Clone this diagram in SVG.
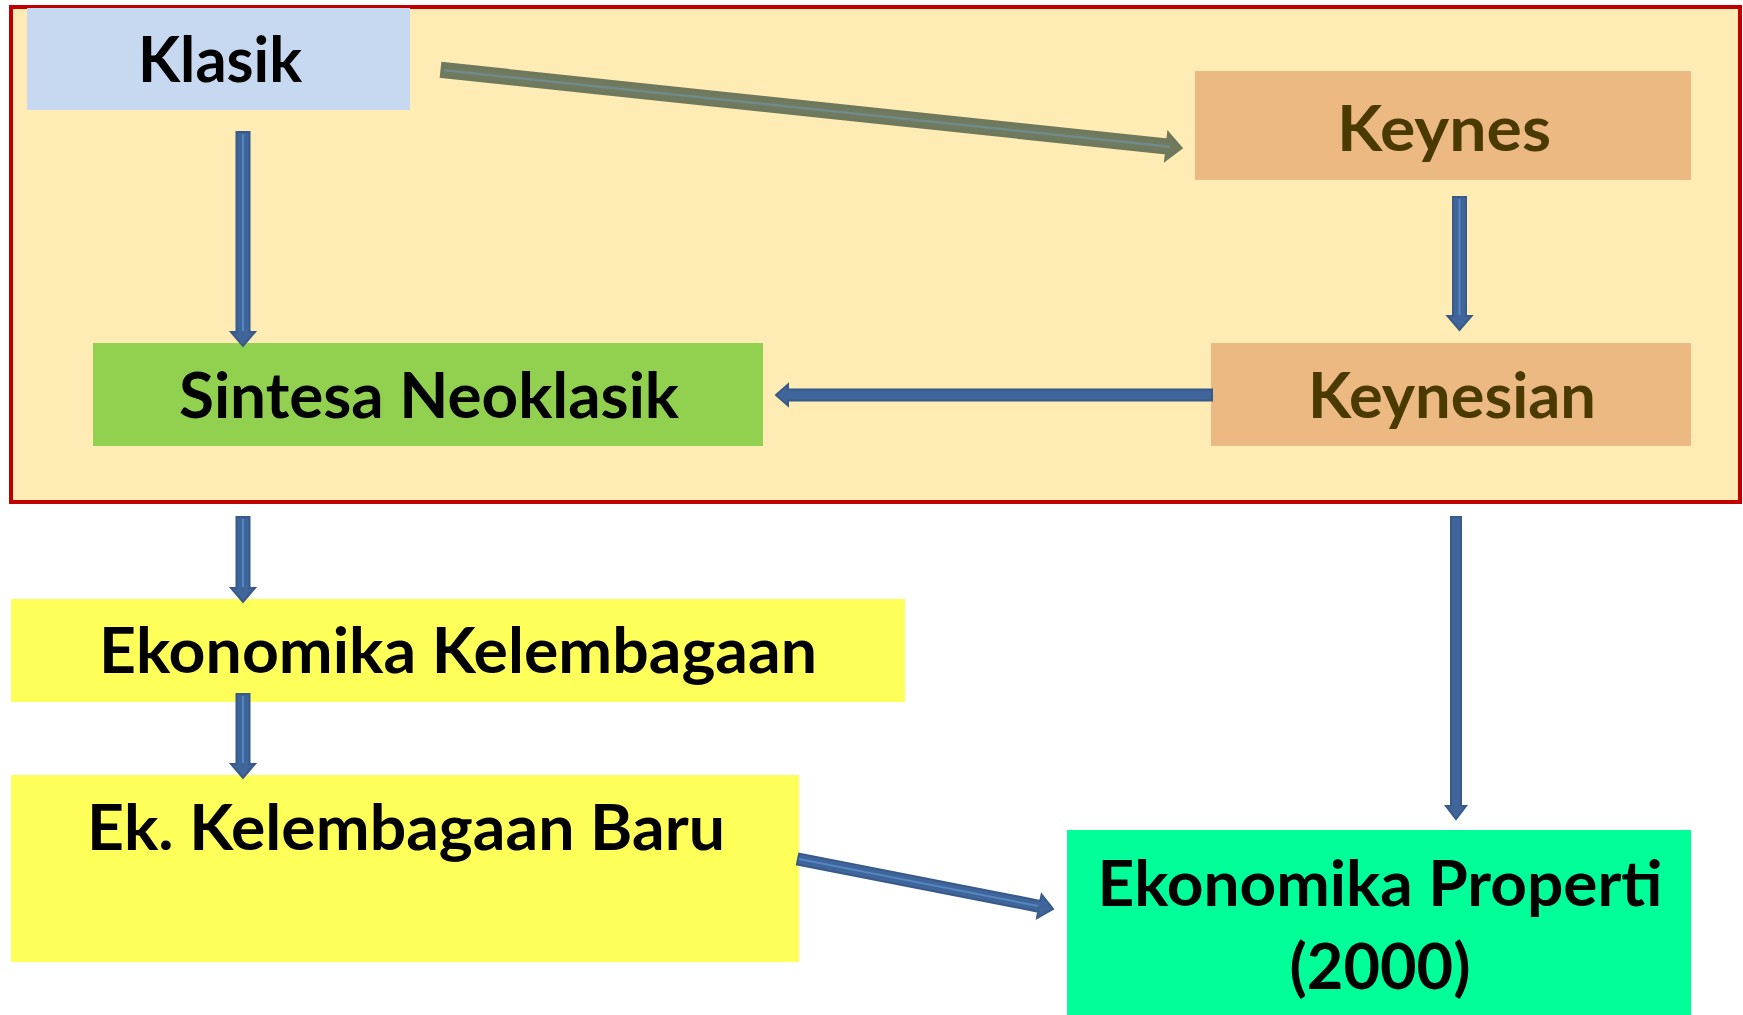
<svg xmlns="http://www.w3.org/2000/svg" width="1743" height="1015" viewBox="0 0 1743 1015">
<style>
.t{font-family:Lato,"Open Sans","Liberation Sans",sans-serif;font-weight:bold;font-size:63px;text-anchor:middle;fill:#000}
.br{fill:#4a3a00}
.ba{fill:#3f659b;stroke:#375a89;stroke-width:2;stroke-linejoin:miter}
.hl{stroke:#5585c2;stroke-width:2;fill:none}
.ga{fill:#6f7a5f;stroke:#6e785d;stroke-width:3;stroke-linejoin:miter}
</style>
<rect width="1743" height="1015" fill="#fff"/>
<g id="frame"><rect x="11" y="7" width="1729" height="495" fill="#FFEBB4" stroke="#C00000" stroke-width="4"/></g>
<g id="klasik"><rect x="27" y="8" width="383" height="102" fill="#C6D9F1"/><text class="t" x="220" y="82" textLength="164" lengthAdjust="spacingAndGlyphs">Klasik</text></g>
<g id="keynes"><rect x="1195" y="71" width="496" height="109" fill="#ECB983"/><text class="t br" x="1444" y="151" textLength="214" lengthAdjust="spacingAndGlyphs">Keynes</text></g>
<g id="keynesian"><rect x="1211" y="343" width="480" height="103" fill="#ECB983"/><text class="t br" x="1452" y="418" textLength="288" lengthAdjust="spacingAndGlyphs">Keynesian</text></g>
<g id="sintesa"><rect x="93" y="343" width="670" height="103" fill="#92D050"/><text class="t" x="429" y="418" textLength="500" lengthAdjust="spacingAndGlyphs">Sintesa Neoklasik</text></g>
<g id="ekkel"><rect x="11" y="599" width="894" height="103" fill="#FFFF59"/><text class="t" x="458" y="673" textLength="718" lengthAdjust="spacingAndGlyphs">Ekonomika Kelembagaan</text></g>
<g id="ekbaru"><rect x="11" y="775" width="788" height="187" fill="#FFFF59"/><text class="t" x="406" y="850" textLength="638" lengthAdjust="spacingAndGlyphs">Ek. Kelembagaan Baru</text></g>
<g id="properti"><rect x="1067" y="830" width="624" height="185" fill="#00FF99"/><text class="t" x="1380" y="906" textLength="565" lengthAdjust="spacingAndGlyphs">Ekonomika Properti</text><text class="t" x="1380" y="989" textLength="181" lengthAdjust="spacingAndGlyphs">(2000)</text></g>
<g id="connectors">
<polygon class="ga" points="441.3,76.5 1166.4,153 1165.7,159.5 1181,148 1168.5,133.6 1167.8,140.1 442.7,63.5"/>
<line x1="444" y1="70.2" x2="1170" y2="146.8" stroke="#708a8a" stroke-width="2.5"/>
<polygon class="ba" points="236.5,132 249.5,132 249.5,332 255,332 243,346 231,332 236.5,332"/>
<line class="hl" x1="243" y1="134" x2="243" y2="331"/>
<polygon class="ba" points="1453,197 1466,197 1466,316 1471.5,316 1459.5,330 1447.5,316 1453,316"/>
<line class="hl" x1="1459.5" y1="199" x2="1459.5" y2="315"/>
<polygon class="ba" points="1212,389.5 1212,400.5 788,400.5 788,405.5 776,395 788,384.5 788,389.5"/>
<polygon class="ba" points="236.5,517 249.5,517 249.5,588 255,588 243,602 231,588 236.5,588"/>
<line class="hl" x1="243" y1="519" x2="243" y2="587"/>
<polygon class="ba" points="236.5,694 249.5,694 249.5,764 255,764 243,778 231,764 236.5,764"/>
<line class="hl" x1="243" y1="696" x2="243" y2="763"/>
<polygon class="ba" points="1451,517 1461,517 1461,806 1466,806 1456,819 1446,806 1451,806"/>
<polygon class="ba" points="796.9,864.4 1038.2,911.7 1037,918.1 1053,909 1041.6,894.5 1040.3,900.9 799.1,853.6"/>
<line class="hl" x1="799" y1="859" x2="1038" y2="906"/>
</g>
</svg>
